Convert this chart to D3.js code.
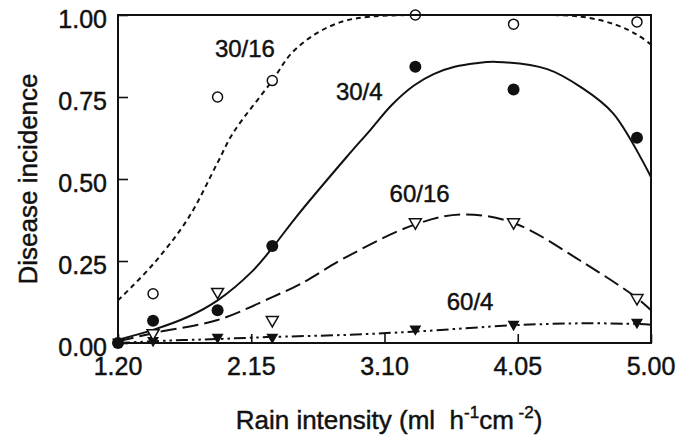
<!DOCTYPE html>
<html>
<head>
<meta charset="utf-8">
<script src="https://cdn.jsdelivr.net/npm/d3@7"></script>
<style>
  html, body { margin: 0; padding: 0; background: #fff; }
  svg { display: block; font-family: "Liberation Sans", Arial, Helvetica, sans-serif; }
  text { fill: #111; stroke: #111; stroke-width: 0.45px; }
</style>
</head>
<body>
<svg id="chart" width="696" height="436"></svg>
<script>
// ---- data ----
const xTicks = [1.20, 2.15, 3.10, 4.05, 5.00];
const yTicks = [0.00, 0.25, 0.50, 0.75, 1.00];

// observed points (rain intensity, disease incidence)
const obsX = [1.20, 1.45, 1.91, 2.30, 3.32, 4.02, 4.90];
const obs30_16 = [null, 0.15, 0.75, 0.80, 1.00, 0.972, 0.979];
const obs30_4  = [0.00, 0.068, 0.10, 0.296, 0.842, 0.773, 0.626];
const obs60_16 = [null, 0.03, 0.156, 0.07, 0.368, 0.368, 0.137];
const obs60_4  = [0.00, 0.005, 0.015, 0.015, 0.04, 0.054, 0.06];

// fitted curves
const fitX30_16 = [1.20, 1.45, 1.70, 1.91, 2.02, 2.30, 2.43, 2.60, 2.80, 3.00, 3.30, 4.00, 4.50, 4.75, 4.90, 5.00];
const fitY30_16 = [0.13, 0.24, 0.38, 0.55, 0.64, 0.80, 0.88, 0.94, 0.98, 0.995, 1.00, 1.00, 0.995, 0.97, 0.94, 0.91];

const fitX30_4 = [1.20, 1.45, 1.70, 1.91, 2.16, 2.30, 2.47, 2.83, 3.00, 3.15, 3.31, 3.45, 3.60, 3.75, 3.90, 4.26, 4.50, 4.73, 5.00];
const fitY30_4 = [0.01, 0.04, 0.08, 0.13, 0.22, 0.29, 0.384, 0.567, 0.65, 0.725, 0.785, 0.82, 0.842, 0.853, 0.857, 0.835, 0.78, 0.70, 0.506];

const fitX60_16 = [1.20, 1.45, 1.91, 2.30, 2.50, 2.84, 3.31, 3.65, 4.02, 4.50, 4.90, 5.00];
const fitY60_16 = [0.005, 0.03, 0.07, 0.14, 0.18, 0.265, 0.36, 0.392, 0.366, 0.25, 0.137, 0.10];

const fitX60_4 = [1.20, 1.55, 1.90, 2.26, 2.84, 3.32, 4.02, 4.50, 4.90, 5.00];
const fitY60_4 = [0.00, 0.007, 0.012, 0.018, 0.025, 0.035, 0.054, 0.06, 0.058, 0.056];

const curveLabels = ["30/16", "30/4", "60/16", "60/4"];
const labelX = [2.105, 2.92, 3.35, 3.71];
const labelY = [0.872, 0.741, 0.43, 0.10];

// ---- drawing ----
const svg = d3.select("#chart");
const mLeft = 118, mRight = 651, mTop = 15, mBottom = 343;
const x = d3.scaleLinear().domain([1.2, 5.0]).range([mLeft, mRight]);
const y = d3.scaleLinear().domain([0, 1]).range([mBottom, mTop]);

svg.append("defs").append("clipPath").attr("id", "clip")
  .append("rect").attr("x", mLeft).attr("y", mTop - 1).attr("width", mRight - mLeft).attr("height", mBottom - mTop + 2);

const plot = svg.append("g").attr("clip-path", "url(#clip)");

const line = d3.line().x(d => x(d[0])).y(d => y(d[1])).curve(d3.curveCatmullRom.alpha(0.5));

const curves = [
  { xs: fitX30_16, ys: fitY30_16, dash: "5,4" },
  { xs: fitX30_4, ys: fitY30_4, dash: null },
  { xs: fitX60_16, ys: fitY60_16, dash: "16,6" },
  { xs: fitX60_4, ys: fitY60_4, dash: "12,4,2.5,4,2.5,4" }
];
curves.forEach(c => {
  plot.append("path")
    .datum(c.xs.map((v, i) => [v, c.ys[i]]))
    .attr("d", line)
    .attr("fill", "none")
    .attr("stroke", "#111")
    .attr("stroke-width", 2)
    .attr("stroke-dasharray", c.dash);
});

// markers
const tri = d3.symbol().type(d3.symbolTriangle).size(62);
function pts(vals) { return obsX.map((v, i) => [v, vals[i]]).filter(d => d[1] !== null); }

svg.append("g").selectAll("path").data(pts(obs60_4)).join("path")
  .attr("d", tri)
  .attr("transform", d => `translate(${x(d[0])},${y(d[1]) - 1}) rotate(180)`)
  .attr("fill", "#111");

svg.append("g").selectAll("path").data(pts(obs60_16)).join("path")
  .attr("d", tri)
  .attr("transform", d => `translate(${x(d[0])},${y(d[1])}) rotate(180)`)
  .attr("fill", "#fff").attr("stroke", "#111").attr("stroke-width", 1.5);

svg.append("g").selectAll("circle").data(pts(obs30_16)).join("circle")
  .attr("cx", d => x(d[0])).attr("cy", d => y(d[1])).attr("r", 5)
  .attr("fill", "#fff").attr("stroke", "#111").attr("stroke-width", 1.5);

svg.append("g").selectAll("circle").data(pts(obs30_4)).join("circle")
  .attr("cx", d => x(d[0])).attr("cy", d => y(d[1])).attr("r", 6)
  .attr("fill", "#111");

// frame
svg.append("rect").attr("x", mLeft).attr("y", mTop).attr("width", mRight - mLeft).attr("height", mBottom - mTop)
  .attr("fill", "none").attr("stroke", "#111").attr("stroke-width", 2);

// axes (inward ticks)
const yAxis = svg.append("g").attr("transform", `translate(${mLeft},0)`)
  .call(d3.axisRight(y).tickValues(yTicks).tickSize(10).tickFormat(""));
yAxis.select(".domain").remove();
yAxis.selectAll("line").attr("stroke", "#111").attr("stroke-width", 1.6);

const xAxis = svg.append("g").attr("transform", `translate(0,${mBottom})`)
  .call(d3.axisTop(x).tickValues(xTicks).tickSize(9).tickFormat(""));
xAxis.select(".domain").remove();
xAxis.selectAll("line").attr("stroke", "#111").attr("stroke-width", 1.6);

// tick labels
svg.append("g").selectAll("text").data(yTicks).join("text")
  .attr("x", 107).attr("y", d => y(d) + 4).attr("dy", "0.35em")
  .attr("text-anchor", "end").attr("font-size", 25)
  .text(d => d.toFixed(2));

svg.append("g").selectAll("text").data(xTicks).join("text")
  .attr("x", d => x(d)).attr("y", 375)
  .attr("text-anchor", "middle").attr("font-size", 25)
  .text(d => d.toFixed(2));

// curve labels
svg.append("g").selectAll("text").data(curveLabels).join("text")
  .attr("x", (d, i) => x(labelX[i])).attr("y", (d, i) => y(labelY[i]))
  .attr("text-anchor", "middle").attr("font-size", 24)
  .text(d => d);

// axis titles
svg.append("text")
  .attr("transform", "translate(37,179) rotate(-90)")
  .attr("text-anchor", "middle").attr("font-size", 26)
  .text("Disease incidence");

const xt = svg.append("text").attr("x", 389).attr("y", 429)
  .attr("text-anchor", "middle").attr("font-size", 26);
xt.append("tspan").text("Rain intensity (ml\u00a0\u00a0h");
xt.append("tspan").attr("dy", -11).attr("font-size", 17).text("-1");
xt.append("tspan").attr("dy", 11).text("cm");
xt.append("tspan").attr("dy", -11).attr("font-size", 17).text("\u00a0-2");
xt.append("tspan").attr("dy", 11).text(")");
</script>
</body>
</html>
